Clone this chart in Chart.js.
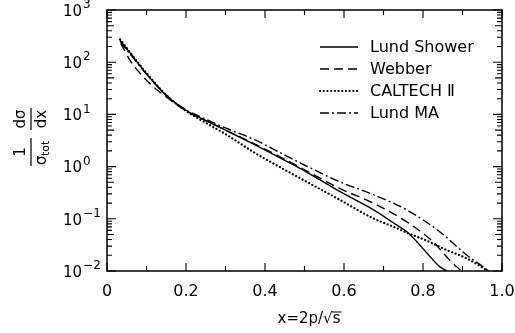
<!DOCTYPE html>
<html>
<head>
<meta charset="utf-8">
<script src="https://cdn.jsdelivr.net/npm/chart.js@4/dist/chart.umd.min.js"></script>
<style>
  html, body { margin: 0; padding: 0; background: #fff; }
  #wrap { width: 515px; height: 333px; }
</style>
</head>
<body>
<div id="wrap"><canvas id="chart" width="515" height="333"></canvas></div>
<script>
// values (x = 2p/sqrt(s), y = 1/sigma dsigma/dx)
const xShower = [0.033, 0.06, 0.1, 0.15, 0.2, 0.25, 0.3, 0.375, 0.45, 0.5, 0.59, 0.674, 0.73, 0.76, 0.785, 0.81, 0.843, 0.862];
const yShower = [265, 145, 60, 23, 12, 7.6, 5.0, 2.6, 1.32, 0.83, 0.33, 0.15, 0.079, 0.056, 0.036, 0.022, 0.012, 0.01];

const xWebber = [0.035, 0.058, 0.08, 0.11, 0.15, 0.2, 0.25, 0.3, 0.375, 0.45, 0.5, 0.59, 0.674, 0.759, 0.826, 0.868, 0.897];
const yWebber = [230, 110, 66, 38, 21.5, 11.7, 7.6, 5.0, 2.7, 1.38, 0.87, 0.38, 0.2, 0.087, 0.036, 0.016, 0.01];

const xCaltech = [0.033, 0.06, 0.1, 0.15, 0.2, 0.25, 0.3, 0.375, 0.45, 0.5, 0.59, 0.674, 0.734, 0.759, 0.81, 0.861, 0.911, 0.965];
const yCaltech = [275, 148, 62, 23.4, 11.7, 6.9, 4.2, 1.82, 0.87, 0.54, 0.23, 0.102, 0.066, 0.054, 0.038, 0.025, 0.0174, 0.01];

const xLundMA = [0.033, 0.06, 0.1, 0.15, 0.2, 0.25, 0.3, 0.375, 0.45, 0.5, 0.59, 0.674, 0.759, 0.843, 0.911, 0.962, 0.972];
const yLundMA = [250, 138, 59, 23.4, 12.3, 8.1, 5.5, 3.24, 1.66, 1.07, 0.51, 0.29, 0.148, 0.056, 0.020, 0.0105, 0.0088];

const seriesNames = ['Lund Shower', 'Webber', 'CALTECH \u2161', 'Lund MA'];

const xTickValues = [0, 0.2, 0.4, 0.6, 0.8, 1.0];
const xTickLabels = ['0', '0.2', '0.4', '0.6', '0.8', '1.0'];
const xMinorTicks = [0.1, 0.3, 0.5, 0.7, 0.9];
const yTickValues = [1000, 100, 10, 1, 0.1, 0.01];
const yTickExps = ['3', '2', '1', '0', '\u22121', '\u22122'];

const pts = (xs, ys) => xs.map((x, i) => ({ x: x, y: ys[i] }));

const FONT = '"DejaVu Sans", sans-serif';

// frame, inward ticks, labels, legend, axis titles
const decorations = {
  id: 'decorations',
  afterDraw(chart) {
    const { ctx, chartArea: a, scales } = chart;
    const xs = scales.x, ys = scales.y;
    ctx.save();
    ctx.strokeStyle = '#000';
    ctx.fillStyle = '#000';

    ctx.lineWidth = 1.5;
    ctx.strokeRect(a.left, a.top, a.right - a.left, a.bottom - a.top);

    ctx.lineWidth = 1.1;
    ctx.beginPath();
    // x ticks top + bottom
    xTickValues.concat(xMinorTicks).forEach(v => {
      const px = xs.getPixelForValue(v);
      const len = xMinorTicks.includes(v) ? 5 : 8;
      ctx.moveTo(px, a.bottom); ctx.lineTo(px, a.bottom - len);
      ctx.moveTo(px, a.top); ctx.lineTo(px, a.top + len);
    });
    // y ticks left + right, decades plus 2..9
    for (let e = -2; e <= 3; e++) {
      for (let m = 1; m <= 9; m++) {
        const v = m * Math.pow(10, e);
        if (v > 1000) break;
        const py = ys.getPixelForValue(v);
        const len = m === 1 ? 9 : (m === 5 ? 7 : 5);
        ctx.moveTo(a.left, py); ctx.lineTo(a.left + len, py);
        ctx.moveTo(a.right, py); ctx.lineTo(a.right - len, py);
      }
    }
    ctx.stroke();

    // x tick labels
    ctx.font = '16px ' + FONT;
    ctx.textAlign = 'center';
    ctx.textBaseline = 'middle';
    xTickValues.forEach((v, i) => {
      ctx.fillText(xTickLabels[i], xs.getPixelForValue(v), 292);
    });

    // y tick labels 10^n
    ctx.textAlign = 'left';
    yTickValues.forEach((v, i) => {
      const py = ys.getPixelForValue(v);
      ctx.font = '15px ' + FONT;
      ctx.fillText('10', 63, py + 2);
      const w = ctx.measureText('10').width;
      ctx.font = '12px ' + FONT;
      ctx.fillText(yTickExps[i], 63 + w + 1, py - 5);
    });

    // x title with bar over s
    ctx.font = '15px ' + FONT;
    ctx.textAlign = 'center';
    const xt = 'x=2p/\u221As';
    ctx.fillText(xt, 309, 319);
    const tw = ctx.measureText(xt).width;
    const sw = ctx.measureText('s').width;
    ctx.lineWidth = 1;
    ctx.beginPath();
    ctx.moveTo(309 + tw / 2 - sw - 1, 312);
    ctx.lineTo(309 + tw / 2 + 1, 312);
    ctx.stroke();

    // y title: 1/sigma_tot  dsigma/dx, rotated
    ctx.translate(31, 140);
    ctx.rotate(-Math.PI / 2);
    ctx.textAlign = 'center';
    ctx.font = '15px ' + FONT;
    ctx.fillText('1', -12, -10);
    ctx.lineWidth = 1.2;
    ctx.beginPath();
    ctx.moveTo(-26, 0); ctx.lineTo(2, 0);
    ctx.moveTo(10, 0); ctx.lineTo(32, 0);
    ctx.stroke();
    ctx.textAlign = 'left';
    ctx.fillText('\u03C3', -25, 11);
    ctx.font = '11px ' + FONT;
    ctx.fillText('tot', -16, 15);
    ctx.font = '15px ' + FONT;
    ctx.textAlign = 'center';
    ctx.fillText('d\u03C3', 21, -10);
    ctx.fillText('dx', 21, 11);
    ctx.setTransform(1, 0, 0, 1, 0, 0);

    // legend
    const rows = [47, 69, 91, 113];
    chart.data.datasets.forEach((ds, i) => {
      ctx.lineWidth = ds.borderWidth;
      ctx.lineCap = ds.borderCapStyle || 'butt';
      ctx.setLineDash(ds.borderDash || []);
      ctx.beginPath();
      ctx.moveTo(320, rows[i]);
      ctx.lineTo(358, rows[i]);
      ctx.stroke();
      ctx.setLineDash([]);
      ctx.lineCap = 'butt';
      ctx.font = '16px ' + FONT;
      ctx.textAlign = 'left';
      ctx.fillText(seriesNames[i], 370, rows[i] + 1);
    });
    ctx.restore();
  }
};

new Chart(document.getElementById('chart'), {
  type: 'line',
  data: {
    datasets: [
      { label: seriesNames[0], data: pts(xShower, yShower), borderColor: '#000', borderWidth: 1.4 },
      { label: seriesNames[1], data: pts(xWebber, yWebber), borderColor: '#000', borderWidth: 1.4, borderDash: [9, 5] },
      { label: seriesNames[2], data: pts(xCaltech, yCaltech), borderColor: '#000', borderWidth: 2.2,
        borderDash: [0.1, 3.6], borderCapStyle: 'round' },
      { label: seriesNames[3], data: pts(xLundMA, yLundMA), borderColor: '#000', borderWidth: 1.4,
        borderDash: [9, 3, 2, 3] }
    ]
  },
  options: {
    responsive: false,
    animation: false,
    devicePixelRatio: 1,
    layout: { padding: { left: 107, top: 10, right: 13, bottom: 62 } },
    elements: {
      point: { radius: 0 },
      line: { cubicInterpolationMode: 'monotone', fill: false }
    },
    plugins: { legend: { display: false }, tooltip: { enabled: false } },
    scales: {
      x: { type: 'linear', min: 0, max: 1, display: false },
      y: { type: 'logarithmic', min: 0.01, max: 1000, display: false }
    }
  },
  plugins: [decorations]
});
</script>
</body>
</html>
